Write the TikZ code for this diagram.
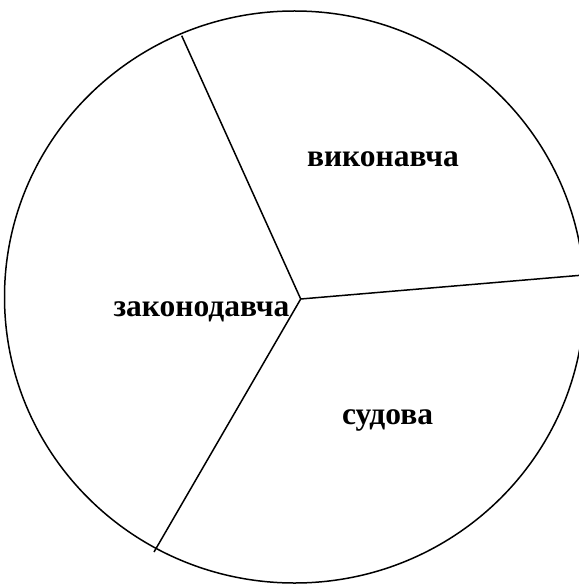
\documentclass[tikz,border=0pt]{standalone}
\usepackage{fontspec}
\setmainfont{Liberation Serif}
\begin{document}
\begin{tikzpicture}[x=1pt,y=-1pt,line width=1.5pt,
  branch/.style={font=\fontsize{31.5}{34}\selectfont\bfseries,anchor=base,inner sep=0pt}]
  \useasboundingbox (0,0) rectangle (578,585);
  % circle
  \draw (294.5,297) ellipse [x radius=290,y radius=286];
  % spokes
  \coordinate (mid) at (300.7,299);
  \coordinate (top) at (181.7,35.7);
  \coordinate (right) at (584,275);
  \coordinate (bottom) at (154,552);
  \foreach \p in {top,right,bottom}{\draw (mid)--(\p);}
  % labels
  \node[branch] (exec) at (383,167){виконавча};
  \node[branch] (legis) at (201.5,316){законодавча};
  \node[branch] (court) at (387.5,424){судова};
\end{tikzpicture}
\end{document}
